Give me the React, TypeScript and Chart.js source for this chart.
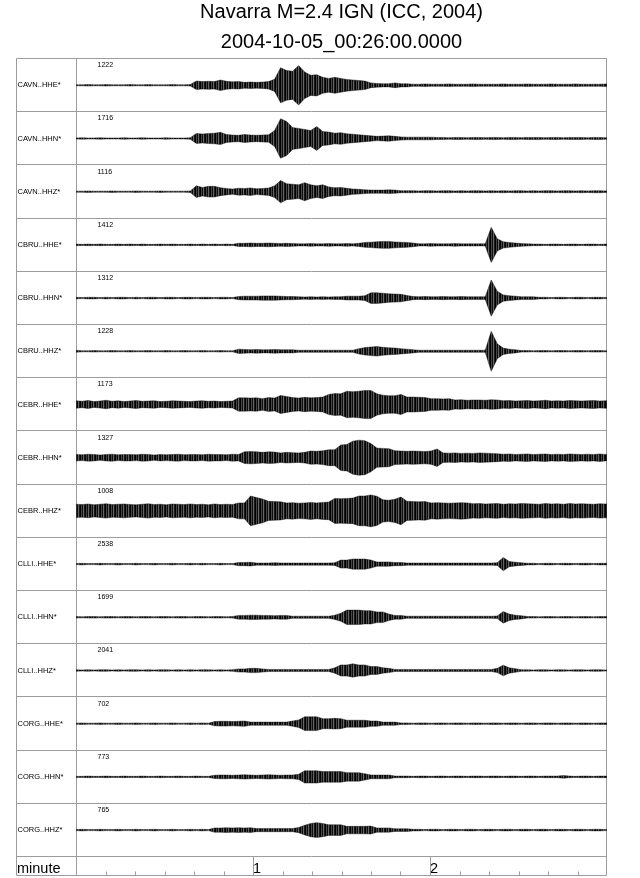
import React, { useEffect, useRef } from "react";
import { Chart, registerables, ChartConfiguration, Plugin } from "chart.js";

Chart.register(...registerables);

const titleText = "Navarra M=2.4 IGN (ICC, 2004)";
const subtitleText = "2004-10-05_00:26:00.0000";

const channels = [
  "CAVN..HHE*", "CAVN..HHN*", "CAVN..HHZ*",
  "CBRU..HHE*", "CBRU..HHN*", "CBRU..HHZ*",
  "CEBR..HHE*", "CEBR..HHN*", "CEBR..HHZ*",
  "CLLI..HHE*", "CLLI..HHN*", "CLLI..HHZ*",
  "CORG..HHE*", "CORG..HHN*", "CORG..HHZ*",
];
const peakCounts = [1222, 1716, 1116, 1412, 1312, 1228, 1173, 1327, 1008, 2538, 1699, 2041, 702, 773, 765];

// trace envelopes read every 2.04 s from the start, in % of half a row
const SAMPLE_STEP = 2.04;
const cavnHHE = [
  2, 2, 3, 2, 2, 3, 2, 2, 2, 3, 2, 2, 3, 2, 2, 2, 3, 2, 2, 3,
  16, 14, 15, 14, 20, 15, 13, 14, 11, 12, 11, 12, 14, 23, 66, 56, 53, 74, 50, 38,
  40, 30, 26, 30, 26, 22, 20, 18, 16, 9, 7, 6, 6, 9, 6, 6, 4, 4, 5, 4,
  4, 4, 5, 4, 4, 4, 5, 4, 4, 4, 4, 5, 4, 4, 4, 5, 4, 4, 4, 5,
  4, 4, 4, 5, 4, 4, 4, 4, 5, 4, 4,
];
const cavnHHN = [
  2, 3, 2, 2, 3, 2, 2, 2, 3, 2, 2, 3, 2, 2, 2, 3, 2, 2, 2, 3,
  19, 17, 19, 20, 23, 15, 13, 12, 15, 13, 12, 13, 14, 30, 74, 64, 41, 38, 34, 30,
  45, 26, 24, 20, 22, 18, 16, 14, 12, 10, 8, 9, 10, 8, 6, 5, 5, 5, 5, 5,
  4, 4, 3, 4, 4, 3, 4, 4, 3, 4, 4, 3, 4, 4, 3, 4, 4, 4, 3, 4,
  4, 3, 4, 4, 4, 3, 4, 4, 3, 4, 3,
];
const cavnHHZ = [
  2, 2, 3, 2, 2, 2, 3, 2, 2, 2, 3, 2, 2, 2, 3, 2, 2, 2, 2, 3,
  22, 16, 20, 20, 15, 12, 10, 13, 12, 14, 11, 12, 14, 22, 42, 30, 28, 26, 34, 26,
  22, 26, 18, 15, 16, 13, 10, 9, 7, 6, 6, 6, 7, 6, 4, 4, 4, 3, 4, 4,
  3, 4, 4, 3, 4, 3, 4, 4, 3, 4, 3, 4, 3, 4, 4, 3, 4, 3, 4, 4,
  3, 4, 4, 3, 4, 3, 4, 4, 3, 4, 3,
];
const cbruHHE = [
  3, 2, 3, 2, 3, 2, 2, 3, 2, 3, 2, 3, 2, 2, 3, 2, 3, 2, 2, 3,
  2, 3, 2, 3, 2, 3, 2, 6, 6, 7, 6, 6, 7, 6, 5, 6, 5, 4, 4, 5,
  4, 4, 5, 4, 4, 5, 4, 6, 9, 10, 12, 13, 13, 11, 10, 9, 7, 4, 4, 5,
  4, 4, 4, 5, 4, 4, 4, 4, 4, 66, 23, 12, 9, 7, 5, 4, 3, 3, 2, 3,
  3, 2, 3, 3, 2, 3, 3, 2, 3, 3, 3,
];
const cbruHHN = [
  3, 2, 3, 3, 2, 3, 2, 3, 3, 2, 3, 2, 3, 3, 2, 3, 3, 2, 3, 3,
  2, 3, 3, 2, 3, 3, 2, 6, 7, 7, 7, 8, 8, 8, 7, 6, 6, 5, 4, 5,
  4, 5, 4, 5, 5, 7, 7, 7, 9, 20, 20, 18, 16, 15, 14, 10, 6, 5, 6, 5,
  5, 6, 5, 5, 6, 5, 5, 5, 5, 68, 26, 12, 9, 7, 5, 5, 5, 3, 3, 2,
  3, 3, 2, 3, 3, 2, 3, 3, 2, 3, 3,
];
const cbruHHZ = [
  4, 2, 2, 3, 2, 2, 3, 2, 2, 3, 2, 2, 3, 2, 2, 3, 2, 2, 3, 2,
  2, 3, 2, 2, 3, 2, 2, 8, 7, 6, 7, 6, 6, 7, 6, 6, 6, 4, 4, 4,
  4, 4, 4, 4, 4, 4, 4, 10, 14, 16, 18, 15, 13, 12, 10, 8, 6, 4, 4, 4,
  4, 4, 4, 4, 4, 4, 4, 4, 4, 75, 28, 12, 8, 6, 3, 3, 2, 3, 3, 2,
  3, 3, 2, 3, 3, 2, 3, 3, 2, 3, 3,
];
const cebrHHE = [
  14, 12, 15, 11, 13, 16, 12, 14, 11, 13, 15, 12, 13, 14, 11, 12, 14, 13, 12, 11,
  13, 14, 12, 13, 11, 12, 13, 25, 25, 24, 25, 22, 26, 24, 34, 30, 26, 24, 27, 25,
  26, 28, 38, 41, 40, 50, 48, 50, 53, 53, 40, 35, 33, 33, 38, 28, 28, 27, 26, 22,
  22, 21, 22, 17, 18, 16, 17, 17, 16, 18, 17, 14, 15, 13, 14, 15, 13, 14, 16, 13,
  14, 13, 15, 14, 13, 14, 15, 13, 14, 13, 14,
];
const cebrHHN = [
  12, 11, 13, 12, 10, 12, 13, 11, 12, 12, 11, 13, 12, 10, 12, 11, 12, 13, 11, 12,
  12, 11, 13, 12, 12, 11, 13, 12, 22, 23, 22, 20, 22, 21, 18, 20, 19, 18, 20, 25,
  24, 26, 30, 30, 48, 50, 62, 66, 64, 53, 36, 35, 34, 26, 25, 24, 25, 24, 23, 25,
  33, 18, 17, 18, 16, 17, 16, 18, 17, 16, 15, 13, 14, 12, 13, 14, 12, 13, 14, 12,
  13, 12, 14, 13, 12, 13, 12, 14, 12, 13, 12,
];
const cebrHHZ = [
  25, 24, 26, 23, 25, 27, 24, 25, 26, 24, 23, 25, 27, 24, 25, 23, 26, 25, 24, 26,
  24, 25, 23, 26, 24, 25, 24, 30, 30, 56, 50, 45, 36, 35, 34, 30, 31, 29, 30, 32,
  30, 32, 33, 47, 46, 47, 48, 56, 56, 60, 55, 42, 40, 44, 52, 36, 35, 34, 35, 30,
  31, 30, 29, 30, 31, 30, 27, 28, 26, 27, 28, 25, 27, 26, 28, 27, 26, 25, 28, 26,
  27, 25, 28, 26, 27, 26, 25, 27, 26, 28, 26,
];
const clliHHE = [
  2, 3, 2, 2, 3, 2, 2, 3, 2, 2, 3, 2, 2, 3, 2, 2, 3, 2, 2, 3,
  2, 3, 2, 2, 3, 2, 2, 6, 6, 7, 4, 4, 4, 5, 4, 4, 4, 4, 4, 4,
  4, 4, 4, 5, 15, 15, 19, 19, 19, 15, 8, 8, 8, 6, 6, 4, 4, 4, 4, 4,
  4, 4, 4, 4, 4, 4, 4, 4, 4, 4, 5, 25, 10, 7, 5, 3, 3, 2, 3, 3,
  2, 3, 3, 2, 3, 3, 2, 3, 3, 2, 3,
];
const clliHHN = [
  3, 2, 3, 3, 2, 3, 3, 2, 3, 3, 2, 3, 3, 2, 3, 3, 2, 3, 3, 2,
  3, 3, 2, 3, 3, 2, 3, 7, 7, 8, 8, 7, 7, 6, 7, 7, 4, 4, 4, 4,
  4, 4, 4, 8, 15, 27, 27, 27, 25, 25, 20, 20, 12, 7, 7, 4, 4, 4, 4, 4,
  4, 4, 4, 4, 4, 4, 4, 4, 4, 4, 5, 22, 12, 8, 6, 3, 3, 2, 3, 3,
  2, 3, 3, 2, 3, 3, 2, 3, 3, 2, 3,
];
const clliHHZ = [
  3, 2, 3, 2, 3, 3, 2, 3, 2, 3, 3, 2, 3, 2, 3, 3, 2, 3, 2, 3,
  2, 3, 3, 2, 3, 2, 3, 6, 6, 8, 8, 6, 4, 4, 4, 4, 4, 4, 4, 4,
  4, 4, 4, 10, 21, 21, 25, 21, 21, 15, 15, 10, 8, 4, 4, 4, 4, 4, 4, 4,
  4, 4, 4, 4, 4, 4, 4, 4, 4, 4, 8, 20, 10, 7, 3, 3, 2, 3, 3, 2,
  3, 3, 2, 3, 3, 2, 3, 3, 2, 3, 3,
];
const corgHHE = [
  2, 3, 2, 2, 3, 2, 2, 3, 2, 2, 3, 2, 2, 3, 2, 2, 3, 2, 2, 3,
  2, 3, 2, 8, 9, 9, 8, 9, 10, 6, 6, 6, 6, 6, 6, 6, 10, 14, 26, 26,
  26, 19, 19, 20, 19, 13, 13, 13, 13, 10, 10, 6, 6, 6, 3, 3, 2, 3, 3, 2,
  3, 3, 2, 3, 3, 2, 3, 3, 2, 3, 3, 2, 3, 3, 2, 3, 3, 2, 3, 3,
  2, 3, 3, 2, 3, 3, 2, 3, 3, 2, 3,
];
const corgHHN = [
  2, 2, 3, 2, 2, 3, 2, 2, 3, 2, 2, 3, 2, 2, 3, 2, 2, 3, 2, 2,
  3, 2, 2, 6, 7, 7, 6, 7, 8, 7, 6, 7, 8, 7, 6, 7, 7, 10, 23, 23,
  23, 20, 20, 20, 20, 16, 16, 16, 12, 7, 7, 7, 7, 3, 3, 3, 2, 3, 3, 2,
  3, 3, 2, 3, 3, 2, 3, 3, 2, 3, 3, 2, 3, 3, 2, 3, 3, 2, 3, 3,
  3, 5, 3, 2, 3, 3, 2, 3, 3, 2, 3,
];
const corgHHZ = [
  2, 3, 2, 2, 3, 2, 2, 3, 2, 2, 3, 2, 2, 3, 2, 2, 3, 2, 2, 3,
  2, 3, 2, 8, 8, 9, 8, 9, 8, 9, 6, 6, 6, 6, 6, 6, 6, 10, 18, 25,
  28, 25, 20, 20, 20, 14, 14, 14, 14, 15, 8, 8, 8, 5, 5, 5, 3, 3, 2, 3,
  3, 2, 3, 3, 2, 3, 3, 2, 3, 3, 2, 3, 3, 2, 3, 3, 2, 3, 3, 2,
  3, 3, 2, 3, 3, 2, 3, 3, 2, 3, 3,
];

const envelopes = [
  cavnHHE, cavnHHN, cavnHHZ, cbruHHE, cbruHHN, cbruHHZ, cebrHHE, cebrHHN, cebrHHZ,
  clliHHE, clliHHN, clliHHZ, corgHHE, corgHHN, corgHHZ,
];
const sampleSeconds = cavnHHE.map((_, k) => k * SAMPLE_STEP);
const minuteLabels = [1, 2];

const FONT = '"Liberation Sans", Arial, Helvetica, sans-serif';
const BASE = 0.513; // trace baseline inside its row

// uneven vertical stripes so the filled envelope reads like dense wiggles
function makeWigglePattern(): CanvasPattern | string {
  const tile = document.createElement("canvas");
  tile.width = 5;
  tile.height = 1;
  const tctx = tile.getContext("2d");
  if (!tctx) return "rgba(0,0,0,0.85)";
  const alphas = [1, 0.72, 0.95, 0.6, 0.9];
  alphas.forEach((a, i) => {
    tctx.fillStyle = `rgba(0,0,0,${a})`;
    tctx.fillRect(i, 0, 1, 1);
  });
  return tctx.createPattern(tile, "repeat") || "rgba(0,0,0,0.85)";
}

const framePlugin: Plugin<"line"> = {
  id: "seisFrame",
  beforeDatasetsDraw(chart) {
    const { ctx, chartArea } = chart;
    const xs = chart.scales.x;
    const ys = chart.scales.y;
    const left = 16.5;
    const right = Math.round(chartArea.right) - 0.5;
    const bottom = Math.round(xs.bottom) - 0.5;
    const top = Math.round(chartArea.top) + 0.5;
    ctx.save();
    ctx.strokeStyle = "#9c9c9c";
    ctx.lineWidth = 1;
    ctx.beginPath();
    for (let i = 0; i <= channels.length; i++) {
      const py = Math.round(ys.getPixelForValue(i)) + 0.5;
      ctx.moveTo(left, py);
      ctx.lineTo(right, py);
    }
    ctx.moveTo(left, top);
    ctx.lineTo(left, bottom);
    ctx.lineTo(right, bottom);
    ctx.lineTo(right, top);
    const colX = Math.round(chartArea.left) + 0.5;
    ctx.moveTo(colX, top);
    ctx.lineTo(colX, bottom);
    // ticks every 10 s, full height at whole minutes
    for (let s = 10; s < 180; s += 10) {
      const px = Math.round(xs.getPixelForValue(s / 60)) + 0.5;
      ctx.moveTo(px, s % 60 === 0 ? Math.round(xs.top) : bottom - 4);
      ctx.lineTo(px, bottom);
    }
    ctx.stroke();
    ctx.restore();
  },
  afterDraw(chart) {
    const { ctx, chartArea } = chart;
    const ys = chart.scales.y;
    const xs = chart.scales.x;
    ctx.save();
    ctx.fillStyle = "#000";
    ctx.textAlign = "left";
    ctx.textBaseline = "middle";
    channels.forEach((name, i) => {
      ctx.font = `7.5px ${FONT}`;
      ctx.fillText(name, 17.5, ys.getPixelForValue(i + BASE));
      ctx.font = `7px ${FONT}`;
      ctx.fillText(String(peakCounts[i]), chartArea.left + 21.5, ys.getPixelForValue(i) + 7.2);
    });
    ctx.font = `14.5px ${FONT}`;
    ctx.textBaseline = "alphabetic";
    ctx.fillText("minute", 17, xs.bottom - 3.5);
    ctx.restore();
  },
};

function buildConfig(fillStyle: CanvasPattern | string): ChartConfiguration<"line"> {
  const datasets: any[] = [];
  envelopes.forEach((env, i) => {
    const base = i + BASE;
    datasets.push({
      label: channels[i],
      data: sampleSeconds.map((s, k) => ({ x: s / 60, y: base - env[k] / 200 })),
      borderColor: "rgba(0,0,0,0.8)",
      borderWidth: 0.5,
      backgroundColor: fillStyle,
      fill: "+1",
      pointRadius: 0,
      tension: 0,
    });
    datasets.push({
      label: channels[i] + " low",
      data: sampleSeconds.map((s, k) => ({ x: s / 60, y: base + env[k] / 200 })),
      borderColor: "rgba(0,0,0,0.8)",
      borderWidth: 0.5,
      fill: false,
      pointRadius: 0,
      tension: 0,
    });
  });

  return {
    type: "line",
    data: { datasets },
    options: {
      animation: false,
      responsive: true,
      maintainAspectRatio: false,
      layout: { padding: { left: 76, right: 33, top: 0, bottom: 2 } },
      scales: {
        x: {
          type: "linear",
          min: 0,
          max: 3,
          grid: { display: false },
          border: { display: false },
          ticks: {
            stepSize: 1,
            align: "start",
            padding: -4,
            color: "#000",
            font: { family: FONT, size: 14.5 },
            callback: (v) => (minuteLabels.includes(Number(v)) ? String(v) : ""),
          },
          afterFit: (scale) => {
            scale.height = 20;
          },
        },
        y: {
          type: "linear",
          min: 0,
          max: channels.length,
          reverse: true,
          display: false,
        },
      },
      plugins: {
        legend: { display: false },
        tooltip: { enabled: false },
        title: {
          display: true,
          text: titleText,
          color: "#000",
          font: { family: FONT, size: 20, weight: "normal", lineHeight: 1.2 },
          padding: { top: 0, bottom: 0 },
        },
        subtitle: {
          display: true,
          text: subtitleText,
          color: "#000",
          font: { family: FONT, size: 20, weight: "normal", lineHeight: 1.2 },
          padding: { top: 6, bottom: 4 },
        },
      },
    },
    plugins: [framePlugin],
  };
}

const Seismogram = () => {
  const canvasRef = useRef<HTMLCanvasElement | null>(null);
  const chart = useRef<Chart<"line">>();

  useEffect(() => {
    if (canvasRef.current) {
      chart.current = new Chart(canvasRef.current, buildConfig(makeWigglePattern()));
    }
    return () => {
      chart.current && chart.current.destroy();
    };
  }, []);

  return <canvas ref={canvasRef} />;
};

export default function App() {
  return (
    <div style={{ position: "absolute", left: 0, top: 0, width: 640, height: 878 }}>
      <Seismogram />
    </div>
  );
}
